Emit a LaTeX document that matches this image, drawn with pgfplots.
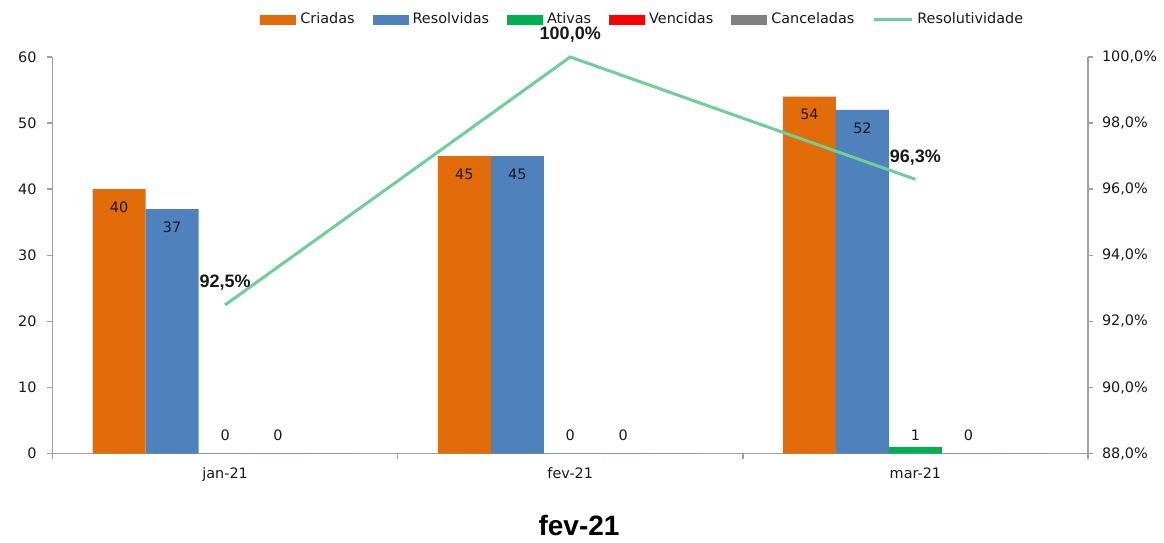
\documentclass[border=0pt]{standalone}
\usepackage{fontspec}
\setmainfont{DejaVu Sans}
\newfontfamily\arialfont{Liberation Sans}
\usepackage{pgfplots}
\usepackage{pgfplotstable}
\pgfplotsset{compat=1.18}

\definecolor{cOrange}{RGB}{227,108,10}
\definecolor{cBlue}{RGB}{79,129,189}
\definecolor{cGreen}{RGB}{0,176,80}
\definecolor{cRed}{RGB}{255,0,0}
\definecolor{cGray}{RGB}{128,128,128}
\definecolor{cLine}{RGB}{110,208,150}
\definecolor{axisgray}{RGB}{160,160,160}
\definecolor{txt}{RGB}{25,25,25}

\pgfplotsset{
  lineleg/.style={legend image code/.code={\draw[##1] (0pt,0pt) -- (19pt,0pt);}},
  barleg/.style={legend image code/.code={\path[##1] (0pt,-2.5pt) rectangle (18pt,2.5pt);}},
}

\pgfplotstableread{
x y dy
0 40 -9
1 45 -9
2 54 -9
}\criadas
\pgfplotstableread{
x y dy
0 37 -9
1 45 -9
2 52 -9
}\resolvidas
\pgfplotstableread{
x y dy
0 0 9
1 0 9
2 1 6
}\ativas
\pgfplotstableread{
x y dy
0 0 9
1 0 9
2 0 9
}\vencidas
\pgfplotstableread{
x y
0 0
1 0
2 0
}\canceladas

\newcommand{\smallfont}{\fontsize{7.2}{8.5}\selectfont}

\begin{document}
\begin{tikzpicture}
\useasboundingbox (-26.25pt,-44.15pt) rectangle (555.75pt,226.85pt);
\begin{axis}[
  scale only axis, width=517.75pt, height=198.35pt,
  xmin=-0.5, xmax=2.5, ymin=0, ymax=60,
  ytick={0,10,...,60},
  xtick={0,1,2}, xticklabels={jan-21,fev-21,mar-21},
  minor xtick={-0.5,0.5,1.5,2.5},
  every major x tick/.append style={draw=none},
  axis x line*=bottom, axis y line*=left,
  axis line style={draw=axisgray, line width=0.75pt},
  tick style={draw=axisgray, line width=0.75pt},
  major tick length=2.5pt, minor tick length=2.5pt, tick align=outside,
  /pgf/number format/assume math mode=true,
  tick label style={font=\smallfont, text=txt},
  yticklabel style={xshift=-2pt},
  xticklabel style={yshift=-1pt},
  ybar, bar width=0.1535,
  barleg,
  legend columns=6,
  legend style={draw=none, fill=none, font=\smallfont, text=txt,
    at={(0.1945,1.094)}, anchor=west,
    /tikz/every even column/.append style={column sep=7pt}},
  clip=false,
]
\addplot[fill=cOrange, draw=none, bar shift=-0.307, nodes near coords,
  visualization depends on={\thisrow{dy} \as \dy},
  every node near coord/.append style={anchor=center, yshift=\dy pt, font=\smallfont, text=txt}]
  table[x=x,y=y]{\criadas};
\addlegendentry{Criadas}
\addplot[fill=cBlue, draw=none, bar shift=-0.1535, nodes near coords,
  visualization depends on={\thisrow{dy} \as \dy},
  every node near coord/.append style={anchor=center, yshift=\dy pt, font=\smallfont, text=txt}]
  table[x=x,y=y]{\resolvidas};
\addlegendentry{Resolvidas}
\addplot[fill=cGreen, draw=none, bar shift=0, nodes near coords,
  visualization depends on={\thisrow{dy} \as \dy},
  every node near coord/.append style={anchor=center, yshift=\dy pt, font=\smallfont, text=txt}]
  table[x=x,y=y]{\ativas};
\addlegendentry{Ativas}
\addplot[fill=cRed, draw=none, bar shift=0.1535, nodes near coords,
  visualization depends on={\thisrow{dy} \as \dy},
  every node near coord/.append style={anchor=center, yshift=\dy pt, font=\smallfont, text=txt}]
  table[x=x,y=y]{\vencidas};
\addlegendentry{Vencidas}
\addplot[fill=cGray, draw=none, bar shift=0.307]
  table[x=x,y=y]{\canceladas};
\addlegendentry{Canceladas}
\addlegendimage{draw=cLine, line width=1.5pt, lineleg}
\addlegendentry{Resolutividade}
\end{axis}
\begin{axis}[
  scale only axis, width=517.75pt, height=198.35pt,
  xmin=-0.5, xmax=2.5, ymin=88, ymax=100,
  axis y line*=right, axis x line=none,
  ytick={88,90,...,100},
  yticklabel={\pgfmathprintnumber[fixed,fixed zerofill,precision=1,use comma]{\tick}\%},
  /pgf/number format/assume math mode=true,
  axis line style={draw=axisgray, line width=0.75pt},
  tick style={draw=axisgray, line width=0.75pt},
  major tick length=2.5pt, tick align=outside,
  tick label style={font=\smallfont, text=txt},
  yticklabel style={xshift=1pt},
  clip=false,
]
\addplot[draw=cLine, line width=1.5pt, mark=none,
  nodes near coords={\pgfmathprintnumber[fixed,fixed zerofill,precision=1,use comma]{\pgfplotspointmeta}\%},
  every node near coord/.append style={anchor=center, yshift=11pt, text=txt,
    font=\arialfont\bfseries\fontsize{9}{10}\selectfont}]
  coordinates {(0,92.5) (1,100) (2,96.3)};
\node[font=\arialfont\bfseries\fontsize{14}{16}\selectfont, text=black]
  at (rel axis cs:0.5085,-0.18) {fev-21};
\end{axis}
\end{tikzpicture}
\end{document}
